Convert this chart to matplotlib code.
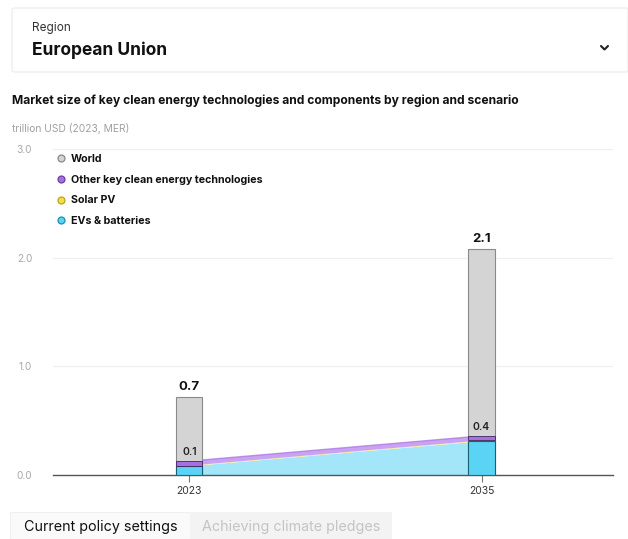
import matplotlib
matplotlib.use("Agg")
import matplotlib.pyplot as plt
from matplotlib.patches import FancyBboxPatch, Rectangle
from matplotlib.lines import Line2D

plt.rcParams['font.family'] = ['Inter', 'DejaVu Sans']

years = [2023, 2035]
year_labels = ["2023", "2035"]
world = [0.72, 2.08]
ev_batteries = [0.08, 0.31]
solar_pv = [0.006, 0.008]
other_tech = [0.042, 0.042]
series_names = ["World", "Other key clean energy technologies", "Solar PV", "EVs & batteries"]
yticks = [0.0, 1.0, 2.0, 3.0]

c_world = "#d4d4d4"
c_other = "#a86fe3"
c_solar = "#f2df4a"
c_ev = "#5ad3f5"
c_ev_area = "#a3e6fa"
c_other_area = "#c9a3f2"
c_solar_area = "#f7eb9a"

W, H = 628, 539
fig = plt.figure(figsize=(W / 100, H / 100), dpi=100)

def fx(px):
    return px / W

def fy(py):
    return 1 - py / H

# Dropdown box
box = FancyBboxPatch((fx(12), fy(72)), fx(628) - fx(12), fy(8) - fy(72),
                     boxstyle="round,pad=0,rounding_size=0.004", transform=fig.transFigure,
                     facecolor="white", edgecolor="#eeeeee", linewidth=1.0)
fig.patches.append(box)
fig.text(fx(32), fy(28), "Region", fontsize=8.5, color="#333333", va="center", ha="left")
fig.text(fx(32), fy(50), "European Union", fontsize=12.5, fontweight="bold", color="#111111",
         va="center", ha="left")
# chevron
fig.add_artist(Line2D([fx(601), fx(604.5), fx(608)], [fy(46), fy(49.5), fy(46)],
                      transform=fig.transFigure, color="#222222", linewidth=1.5,
                      solid_capstyle="round", solid_joinstyle="round"))

fig.text(fx(12), fy(101), "Market size of key clean energy technologies and components by region and scenario",
         fontsize=8.7, fontweight="bold", color="#111111", va="center", ha="left")
fig.text(fx(12), fy(128), "trillion USD (2023, MER)", fontsize=7.4, color="#a0a0a0",
         va="center", ha="left")

# Axes
ax = fig.add_axes([fx(53), fy(475), fx(613) - fx(53), fy(149) - fy(475)])
ax.set_xlim(2017.4, 2040.4)
ax.set_ylim(0, 3.0)
for s in ["top", "right", "left"]:
    ax.spines[s].set_visible(False)
ax.spines["bottom"].set_color("#555555")
ax.spines["bottom"].set_linewidth(1.0)
ax.set_yticks(yticks)
ax.set_yticklabels([f"{v:.1f}" for v in yticks], fontsize=7.3, color="#a8a8a8")
ax.tick_params(axis="y", length=0, pad=15)
ax.set_xticks(years)
ax.set_xticklabels(year_labels, fontsize=7.5, color="#333333")
ax.tick_params(axis="x", length=5, color="#777777", width=0.8, pad=3)
for v in yticks[1:]:
    ax.axhline(v, color="#f0f0f0", linewidth=1.0, zorder=0)

# Area between years
ax.stackplot(years, ev_batteries, solar_pv, other_tech,
             colors=[c_ev_area, c_solar_area, c_other_area], zorder=1, linewidth=0)
top_solar = [e + s for e, s in zip(ev_batteries, solar_pv)]
top_other = [e + s + o for e, s, o in zip(ev_batteries, solar_pv, other_tech)]
ax.plot(years, top_other, color=c_other, linewidth=1.0, zorder=1.5, alpha=0.7)

bw = 1.07
# World bars
ax.bar(years, world, width=bw, color=c_world, edgecolor="#8a8a8a", linewidth=0.8, zorder=2)
# EU stacked segments
ax.bar(years, ev_batteries, width=bw, color=c_ev, edgecolor="#1c5f70", linewidth=0.8, zorder=3)
ax.bar(years, solar_pv, bottom=ev_batteries, width=bw, color=c_solar, edgecolor="none", zorder=3)
ax.bar(years, other_tech, bottom=top_solar, width=bw, color=c_other, edgecolor="#3a2a5a",
       linewidth=0.6, zorder=3)

for x, w, t in zip(years, world, top_other):
    ax.annotate(f"{w:.1f}", (x, w), xytext=(0, 3), textcoords="offset points",
                ha="center", va="bottom", fontsize=9.5, fontweight="bold", color="#111111", zorder=5)
    ax.annotate(f"{t:.1f}", (x, t), xytext=(0, 3), textcoords="offset points",
                ha="center", va="bottom", fontsize=7.5, fontweight="semibold", color="#222222", zorder=5)

# Legend
handles = [Line2D([], [], marker="o", linestyle="none", markersize=5,
                  markerfacecolor=c, markeredgecolor=ec, markeredgewidth=0.9)
           for c, ec in [(c_world, "#888888"), (c_other, "#6a3fb0"),
                         (c_solar, "#b8a420"), (c_ev, "#1f8fb0")]]
leg = fig.legend(handles, series_names, loc="upper left", bbox_to_anchor=(fx(55), fy(154)),
                 frameon=False, fontsize=7.7, handletextpad=0.3, labelspacing=1.0,
                 borderaxespad=0.0, borderpad=0.0, handlelength=1.2)
for t in leg.get_texts():
    t.set_fontweight("bold")
    t.set_color("#111111")

# Bottom tabs
tab1 = Rectangle((fx(10), 0), fx(190) - fx(10), fy(512), transform=fig.transFigure,
                 facecolor="#fafafa", edgecolor="#f0f0f0", linewidth=0.8)
tab2 = Rectangle((fx(190), 0), fx(392) - fx(190), fy(512), transform=fig.transFigure,
                 facecolor="#f3f3f3", edgecolor="none")
fig.patches.extend([tab1, tab2])
fig.text(fx(101), fy(527), "Current policy settings", fontsize=10.3, color="#111111",
         ha="center", va="center")
fig.text(fx(291), fy(527), "Achieving climate pledges", fontsize=10.3, color="#c4c4c4",
         ha="center", va="center")

fig.savefig("out.png", dpi=100, facecolor="white")
